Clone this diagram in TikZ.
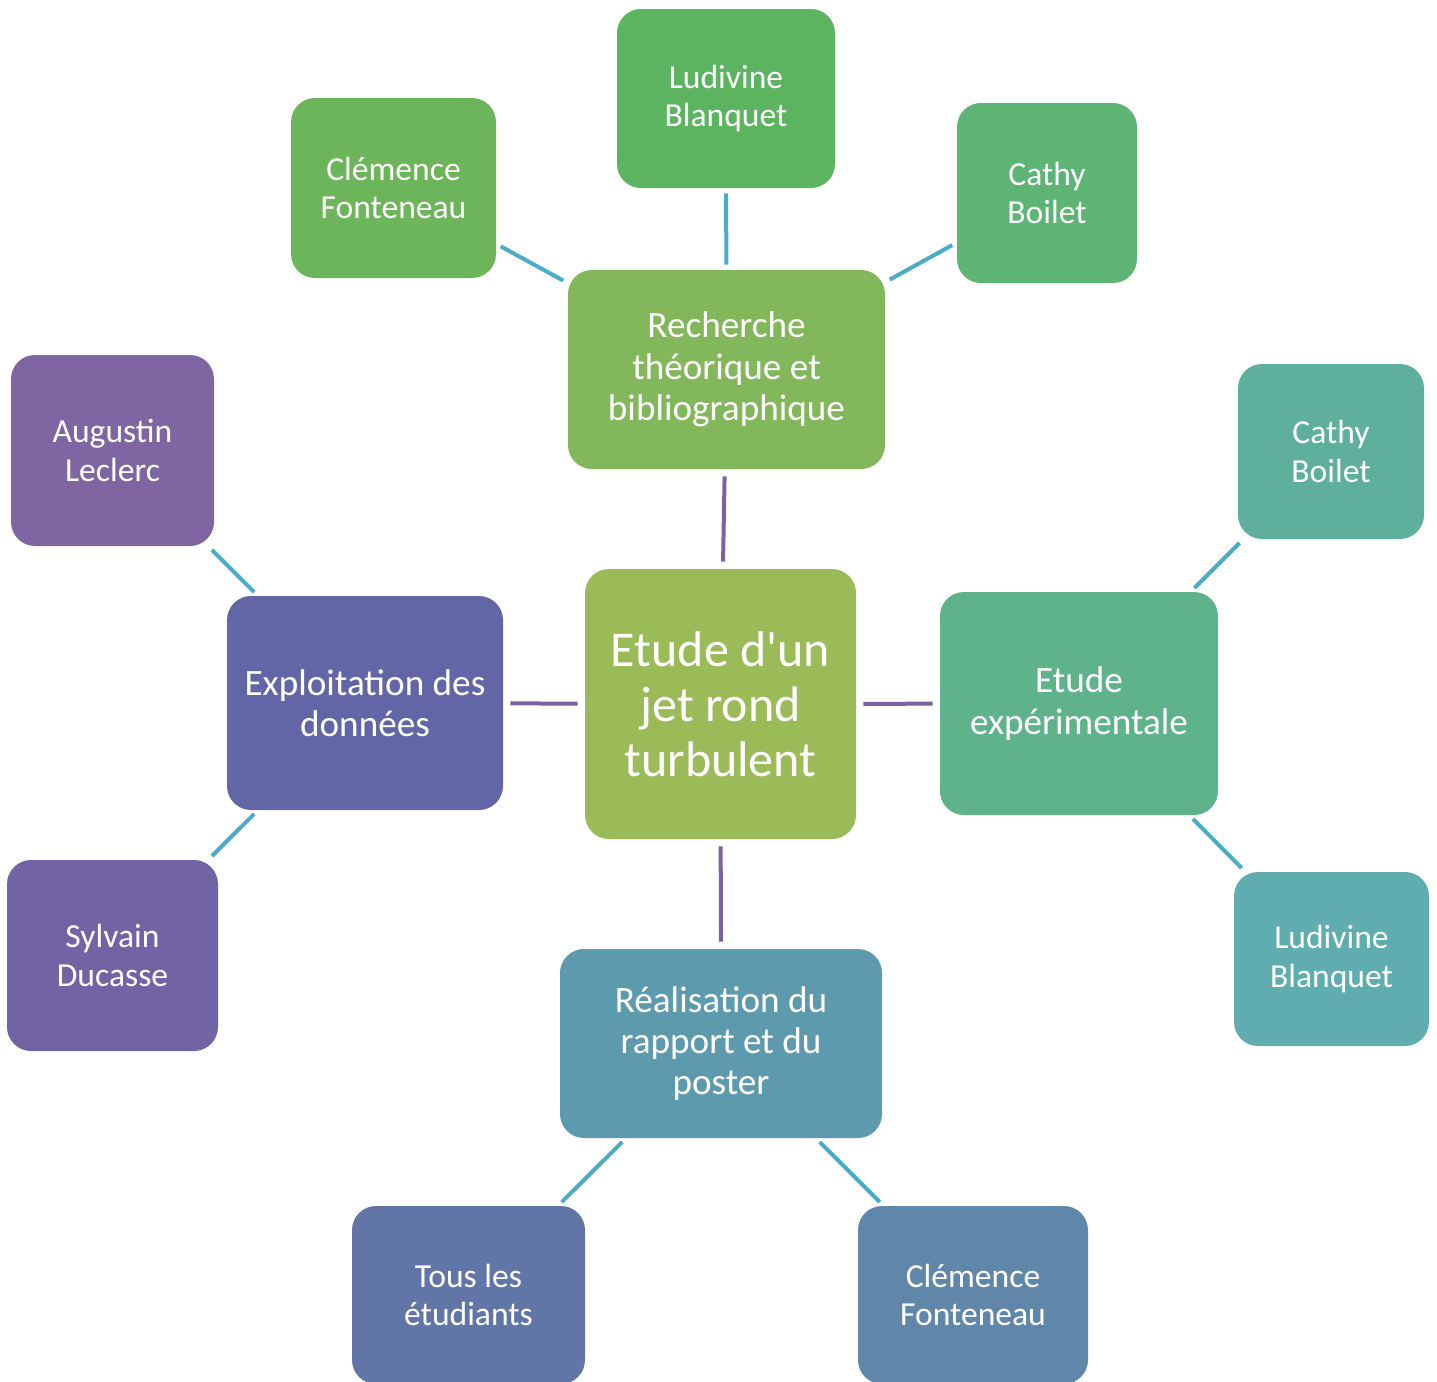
\documentclass[tikz,border=0pt]{standalone}
\usepackage{fontspec}
\setmainfont{Carlito}[Ligatures=TeXOff]
\definecolor{ccenter}{HTML}{9BBB59}
\definecolor{crech}{HTML}{83B75B}
\definecolor{cludt}{HTML}{5CB460}
\definecolor{cclemt}{HTML}{6DB55A}
\definecolor{ccathyt}{HTML}{5DB474}
\definecolor{cexpl}{HTML}{6366A6}
\definecolor{caug}{HTML}{7F65A2}
\definecolor{csyl}{HTML}{7263A5}
\definecolor{cetexp}{HTML}{5EB38A}
\definecolor{ccathyr}{HTML}{5EAF9C}
\definecolor{cludr}{HTML}{5FADAF}
\definecolor{creal}{HTML}{5E9AAE}
\definecolor{ctous}{HTML}{6275A7}
\definecolor{cclemb}{HTML}{6087AA}
\definecolor{plinec}{HTML}{7D60A0}
\definecolor{blinec}{HTML}{4BACC6}
\newcommand{\mybox}[7]{\node[box, fill=#2, minimum width=#5*0.5pt, minimum height=#6*0.5pt] (#1) at (#3,#4) {#7};}
\begin{document}
\begin{tikzpicture}[x=0.5pt,y=-0.5pt,
  basebox/.style={rounded corners=12pt, text=white, align=center, inner sep=0pt, draw=none},
  smallt/.style={font=\fontsize{16.8}{19.2}\selectfont},
  midt/.style={font=\fontsize{18.6}{20.7}\selectfont},
  bigt/.style={font=\fontsize{25}{27.5}\selectfont},
  pline/.style={draw=plinec, line width=2pt, shorten >=3.5pt, shorten <=3.5pt},
  bline/.style={draw=blinec, line width=2pt, shorten >=2.5pt, shorten <=2.5pt}]
\useasboundingbox (0,0) rectangle (1437,1382);
% main nodes
\tikzset{box/.style={basebox, bigt}}
\mybox{c}{ccenter}{720.5}{704}{271}{270}{Etude d'un\\jet rond\\turbulent}
\tikzset{box/.style={basebox, midt}}
\mybox{rech}{crech}{726.5}{369.5}{317}{199}{Recherche\\théorique et\\bibliographique}
\mybox{expl}{cexpl}{365}{703}{276}{214}{Exploitation des\\données}
\mybox{etexp}{cetexp}{1079}{703.5}{278}{223}{Etude\\expérimentale}
\mybox{real}{creal}{721}{1043.5}{322}{189}{Réalisation du\\rapport et du\\poster}
\tikzset{box/.style={basebox, smallt}}
\mybox{ludt}{cludt}{726}{98.5}{218}{179}{Ludivine\\Blanquet}
\mybox{clemt}{cclemt}{393.5}{188}{205}{180}{Clémence\\Fonteneau}
\mybox{cathyt}{ccathyt}{1047}{193}{180}{180}{Cathy\\Boilet}
\mybox{aug}{caug}{112.5}{450.5}{203}{191}{Augustin\\Leclerc}
\mybox{syl}{csyl}{112.5}{955.5}{211}{191}{Sylvain\\Ducasse}
\mybox{cathyr}{ccathyr}{1331}{451.5}{186}{175}{Cathy\\Boilet}
\mybox{ludr}{cludr}{1331.5}{959}{195}{174}{Ludivine\\Blanquet}
\mybox{tous}{ctous}{468.5}{1295}{233}{178}{Tous les\\étudiants}
\mybox{clemb}{cclemb}{973}{1295}{230}{178}{Clémence\\Fonteneau}
% connectors
\draw[pline] (c) -- (rech);
\draw[pline] (c) -- (expl);
\draw[pline] (c) -- (etexp);
\draw[pline] (c) -- (real);
\draw[bline] (rech) -- (clemt);
\draw[bline] (rech) -- (ludt);
\draw[bline] (rech) -- (cathyt);
\draw[bline] (expl) -- (aug);
\draw[bline] (expl) -- (syl);
\draw[bline] (etexp) -- (cathyr);
\draw[bline] (etexp) -- (ludr);
\draw[bline] (real) -- (tous);
\draw[bline] (real) -- (clemb);
\end{tikzpicture}
\end{document}
